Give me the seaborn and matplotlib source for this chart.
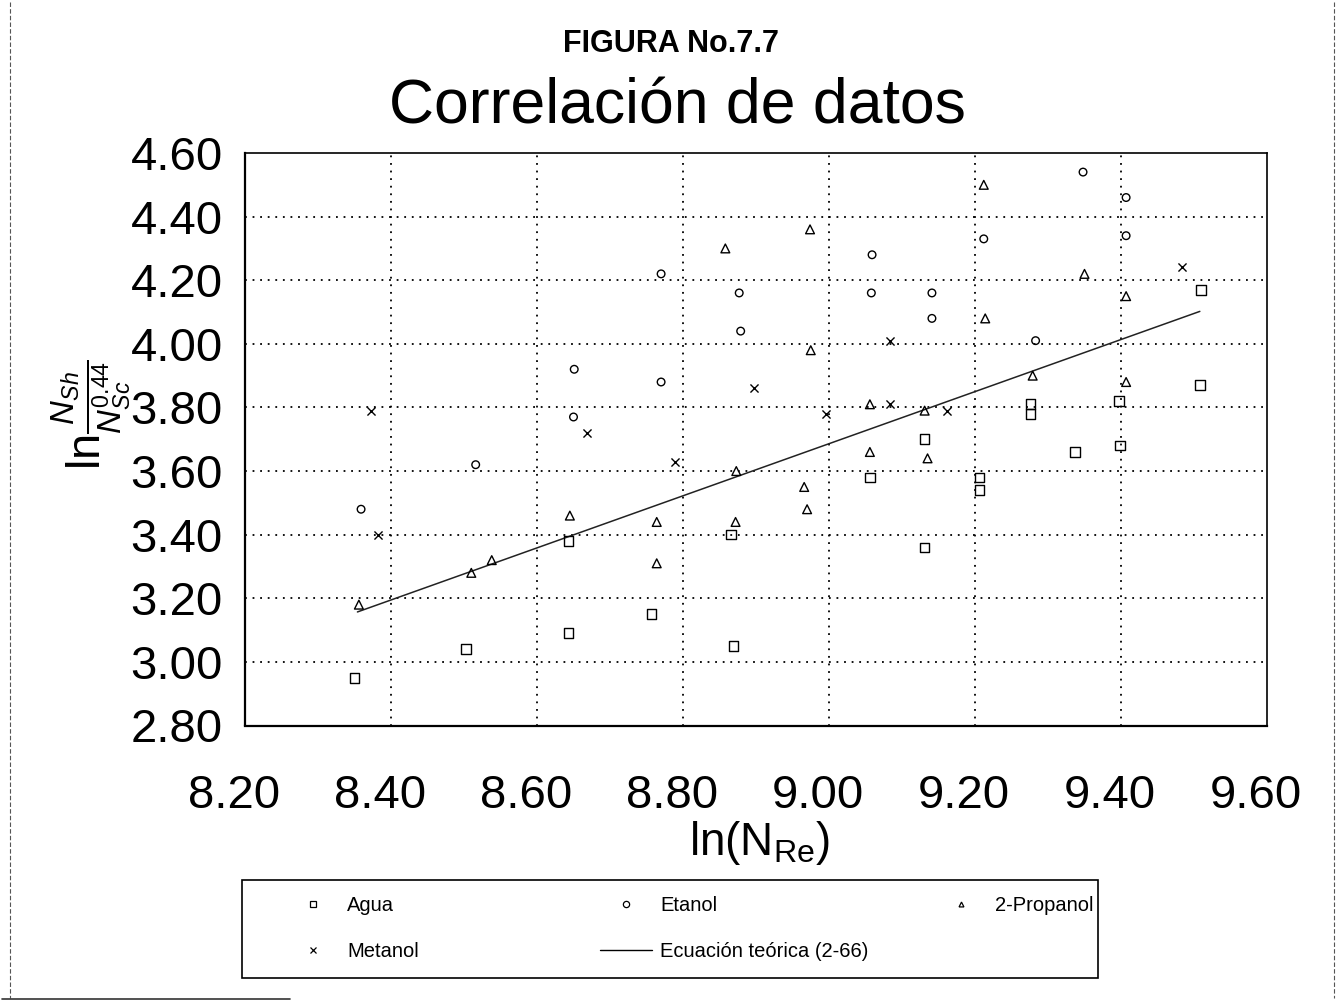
import matplotlib
matplotlib.use("Agg")
import matplotlib.pyplot as plt
import seaborn as sns
import numpy as np
from matplotlib.lines import Line2D
from matplotlib.patches import Rectangle
from matplotlib.ticker import MultipleLocator, FormatStrFormatter
from matplotlib.transforms import ScaledTranslation

# ---- data: ln(N_Re) vs ln(N_Sh / N_Sc^0.44) ----
agua_x = [8.350, 8.503, 8.643, 8.643, 8.757, 8.869, 8.866, 9.056, 9.131, 9.131,
          9.206, 9.206, 9.276, 9.276, 9.337, 9.399, 9.397, 9.508, 9.510]
agua_y = [2.95, 3.04, 3.09, 3.38, 3.15, 3.05, 3.40, 3.58, 3.36, 3.70,
          3.58, 3.54, 3.81, 3.78, 3.66, 3.68, 3.82, 3.87, 4.17]

etanol_x = [8.359, 8.516, 8.650, 8.651, 8.770, 8.770, 8.877, 8.879, 9.058,
            9.059, 9.141, 9.141, 9.212, 9.283, 9.348, 9.407, 9.407]
etanol_y = [3.48, 3.62, 3.77, 3.92, 3.88, 4.22, 4.16, 4.04, 4.16,
            4.28, 4.16, 4.08, 4.33, 4.01, 4.54, 4.46, 4.34]

propanol_x = [8.356, 8.510, 8.538, 8.645, 8.764, 8.764, 8.872, 8.873, 8.858,
              8.966, 8.970, 8.974, 8.975, 9.056, 9.056, 9.131, 9.135, 9.212,
              9.214, 9.279, 9.350, 9.407, 9.407]
propanol_y = [3.18, 3.28, 3.32, 3.46, 3.44, 3.31, 3.44, 3.60, 4.30,
              3.55, 3.48, 4.36, 3.98, 3.66, 3.81, 3.79, 3.64, 4.50,
              4.08, 3.90, 4.22, 4.15, 3.88]

metanol_x = [8.372, 8.382, 8.669, 8.789, 8.897, 8.996, 9.083, 9.084, 9.161, 9.483]
metanol_y = [3.79, 3.40, 3.72, 3.63, 3.86, 3.78, 4.01, 3.81, 3.79, 4.24]

# theoretical equation (2-66), end points
teorica_x = [8.354, 9.508]
teorica_y = [3.157, 4.102]

x_ticks = [8.20, 8.40, 8.60, 8.80, 9.00, 9.20, 9.40, 9.60]
y_ticks = [2.80, 3.00, 3.20, 3.40, 3.60, 3.80, 4.00, 4.20, 4.40, 4.60]

sns.set_style("white")
plt.rcParams["font.family"] = ["Liberation Sans", "DejaVu Sans"]
plt.rcParams["text.color"] = "black"
plt.rcParams["xtick.color"] = "black"
plt.rcParams["ytick.color"] = "black"
plt.rcParams["mathtext.fontset"] = "custom"
plt.rcParams["mathtext.rm"] = "Liberation Sans"
plt.rcParams["mathtext.it"] = "Liberation Sans:italic"

W, H = 1342, 1002
fig = plt.figure(figsize=(W / 100, H / 100), dpi=100)
fig.patch.set_facecolor("white")

def fx(px):
    return px / W

def fy(py):
    return 1 - py / H

ax = fig.add_axes([fx(245), fy(725.5), fx(1267 - 245), (725.5 - 153) / H])
ax.set_facecolor("white")

series = [
    (agua_x, agua_y, "s", 48, "Agua"),
    (etanol_x, etanol_y, "o", 30, "Etanol"),
    (propanol_x, propanol_y, "^", 40, "2-Propanol"),
]
for xs, ys, m, s, lab in series:
    sns.scatterplot(x=xs, y=ys, marker=m, s=s, facecolors="none",
                    edgecolor="black", linewidth=1.0, ax=ax, zorder=3)
sns.scatterplot(x=metanol_x, y=metanol_y, marker="x", s=34, color="black",
                linewidth=1.0, ax=ax, zorder=3)
sns.lineplot(x=teorica_x, y=teorica_y, color="#222222", linewidth=1.1,
             ax=ax, zorder=2)

ax.set_xlim(8.20, 9.60)
ax.set_ylim(2.80, 4.60)
ax.set_xticks(x_ticks)
ax.set_yticks(y_ticks)
ax.xaxis.set_minor_locator(MultipleLocator(0.1))
ax.yaxis.set_minor_locator(MultipleLocator(0.1))
ax.xaxis.set_major_formatter(FormatStrFormatter("%.2f"))
ax.yaxis.set_major_formatter(FormatStrFormatter("%.2f"))
ax.tick_params(axis="both", which="both", direction="inout", color="black",
               labelcolor="black", width=1.2, length=12, labelsize=34, pad=8)
ax.tick_params(axis="y", pad=10)
ax.tick_params(axis="x", pad=29)

# dotted grid inside the frame
for gx in x_ticks[1:-1]:
    ax.axvline(gx, color="black", linewidth=1.3, linestyle=(0, (1, 3.2)), zorder=1)
for gy in y_ticks[1:-1]:
    ax.axhline(gy, color="black", linewidth=1.3, linestyle=(0, (1, 3.2)), zorder=1)

for side in ["left", "bottom"]:
    ax.spines[side].set_linewidth(1.6)
for side in ["top", "right"]:
    ax.spines[side].set_linewidth(1.2)
for sp in ax.spines.values():
    sp.set_color("black")

shift = ScaledTranslation(-11 / 100, 0, fig.dpi_scale_trans)
for lbl in ax.get_xticklabels():
    lbl.set_transform(lbl.get_transform() + shift)

ax.set_xlabel("")
ax.set_ylabel("")

# titles
fig.text(0.5, fy(44), "FIGURA No.7.7", ha="center", va="center",
         fontsize=22, fontweight="bold", color="black")
fig.text(0.505, fy(107), "Correlación de datos", ha="center", va="center",
         fontsize=45, color="black")

# axis titles
fig.text(fx(760), fy(843), r"ln(N$_{\mathrm{Re}}$)", ha="center", va="center",
         fontsize=33, color="black")
fig.text(fx(92), fy(415), r"ln$\frac{N_{Sh}}{N_{Sc}^{0.44}}$", ha="center",
         va="center", rotation=90, fontsize=34, color="black")

# legend box
fig.add_artist(Rectangle((fx(242), fy(978)), fx(1098 - 242), (978 - 880) / H,
                         transform=fig.transFigure, fill=False,
                         edgecolor="black", linewidth=1.2))

def mk(marker, size, fill="none"):
    return Line2D([], [], linestyle="none", marker=marker, markersize=size,
                  markerfacecolor=fill, markeredgecolor="black",
                  markeredgewidth=0.9, color="black")

leg_kw = dict(frameon=False, loc="upper left", borderpad=0, borderaxespad=0,
              handlelength=2.6, handletextpad=0.4, labelspacing=1.35,
              fontsize=14.5, labelcolor="black")
l1 = fig.legend([mk("s", 5), mk("x", 5)], ["Agua", "Metanol"],
                bbox_to_anchor=(fx(287), fy(896)), **leg_kw)
l2 = fig.legend([mk("o", 4.5),
                 Line2D([], [], color="black", linewidth=1.0)],
                ["Etanol", "Ecuación teórica (2-66)"],
                bbox_to_anchor=(fx(600), fy(896)), **leg_kw)
l3 = fig.legend([mk("^", 3.5)], ["2-Propanol"],
                bbox_to_anchor=(fx(935), fy(896)), **leg_kw)

# page edges of the sheet
fig.add_artist(Line2D([fx(10), fx(10)], [fy(2), fy(998)], transform=fig.transFigure,
                      color="#555555", linewidth=0.8, linestyle=(0, (4, 2))))
fig.add_artist(Line2D([fx(1334), fx(1334)], [fy(2), fy(998)], transform=fig.transFigure,
                      color="#555555", linewidth=0.8, linestyle=(0, (4, 2))))
fig.add_artist(Line2D([fx(2), fx(290)], [fy(999), fy(999)], transform=fig.transFigure,
                      color="#333333", linewidth=1.2))

fig.savefig("out.png", dpi=100, facecolor="white")
